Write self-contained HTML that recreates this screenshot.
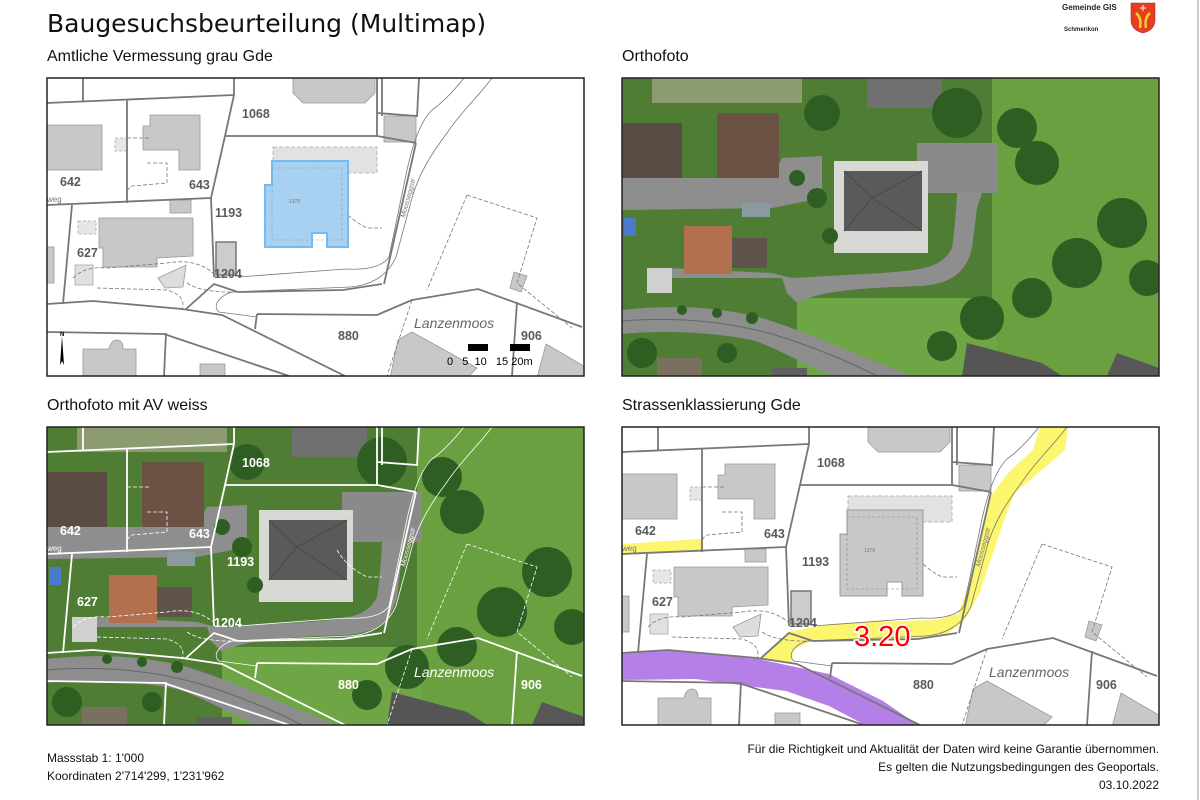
<!DOCTYPE html>
<html><head><meta charset="utf-8"><style>
html,body{margin:0;padding:0;background:#fff;}
svg{display:block;}
.t{font-family:"Liberation Sans",sans-serif;}
.lb{font-family:"Liberation Sans",sans-serif;font-weight:bold;font-size:12.5px;fill:#5a5a5a;}
.sm{font-family:"Liberation Sans",sans-serif;font-size:5px;fill:#777;}
</style></head><body>
<svg width="1200" height="800" viewBox="0 0 1200 800" xmlns="http://www.w3.org/2000/svg">
<defs>
<clipPath id="cp"><rect x="0" y="0" width="537" height="298"/></clipPath>
<g id="blds">
  <rect x="0" y="47" width="55" height="45" fill="#c8c8c8" stroke="#999" stroke-width="0.8"/>
  <polygon points="103,37 153,37 153,92 132,92 132,72 96,72 96,48 103,48" fill="#c8c8c8" stroke="#999" stroke-width="0.8"/>
  <polygon points="52,140 146,140 146,178 110,180 110,189 56,189 56,170 52,170" fill="#c8c8c8" stroke="#999" stroke-width="0.8"/>
  <polygon points="246,0 328,0 328,15 318,25 256,25 246,15" fill="#c8c8c8" stroke="#999" stroke-width="0.8"/>
  <rect x="337" y="38" width="32" height="26" fill="#c8c8c8" stroke="#999" stroke-width="0.8"/>
  <rect x="169" y="164" width="20" height="33" fill="#ccc" stroke="#777" stroke-width="1.5"/>
  <polygon points="111,200 139,187 136,209 118,210" fill="#ddd" stroke="#999" stroke-width="0.8"/>
  <rect x="123" y="122" width="21" height="13" fill="#c8c8c8" stroke="#999" stroke-width="0.8"/>
  <rect x="226" y="69" width="104" height="26" fill="#e2e2e2" stroke="#aaa" stroke-width="0.8" stroke-dasharray="4,2"/>
  <path d="M36,298 L36,271 L62,271 Q64,262 70,262 Q76,262 76,271 L89,271 L89,298Z" fill="#c8c8c8" stroke="#999" stroke-width="0.8"/>
  <rect x="153" y="286" width="25" height="14" fill="#c8c8c8" stroke="#999" stroke-width="0.8"/>
  <polygon points="365,254 430,290 420,300 343,300 351,262" fill="#c8c8c8" stroke="#999" stroke-width="0.8"/>
  <polygon points="499,266 540,290 540,300 490,300" fill="#c8c8c8" stroke="#999" stroke-width="0.8"/>
  <polygon points="467,194 480,198 474,214 463,210" fill="#c8c8c8" stroke="#999" stroke-width="0.8"/>
  <rect x="0" y="169" width="7" height="36" fill="#c8c8c8" stroke="#999" stroke-width="0.8"/>
  <rect x="28" y="187" width="18" height="20" fill="#e0e0e0" stroke="#aaa" stroke-width="0.8"/>
  <rect x="31" y="143" width="18" height="13" fill="#e6e6e6" stroke="#aaa" stroke-width="0.8" stroke-dasharray="3,2"/>
  <rect x="68" y="60" width="12" height="13" fill="#e6e6e6" stroke="#aaa" stroke-width="0.8" stroke-dasharray="3,2"/>
</g>
<g id="lines" fill="none">
  <path d="M0,25 L187,17 M36,0 L36,23 M80,22 L80,125 M187,0 L187,17 L178,58 L164,120 L167,199 M178,58 L330,58 L369,65 M330,0 L330,58 M335,0 L335,38 M330,35 L370,38 M369,65 L337,206 M370,39 L372,0 M0,127 L164,120 M25,127 L16,226 M0,226 L46,223 L135,231 L175,237 L298,298 M0,254 L117,256 L242,298 M139,231 L167,206 L191,214 L296,212 L335,206 M210,236 L330,237 L365,222 L431,211 L535,249 M210,236 L208,251 M470,224 L465,298 M119,255 L117,298" stroke-width="1.8"/>
  <path d="M445,0 C430,20 413,35 400,55 C385,75 372,95 365,120 L349,179 C340,200 320,208 303,209 L185,214 C172,218 165,228 172,234 L210,239 M417,0 C405,15 395,25 385,32 C372,45 365,70 360,92 L342,179 C335,190 315,192 299,191 L191,199" stroke-width="0.8"/>
  <path d="M80,60 L103,60 M100,85 L120,85 L120,105 L85,108 Q78,112 80,120 M26,200 Q38,188 60,190 L120,185 Q150,180 167,196 M140,205 Q155,215 190,214 M50,210 L120,212 Q140,218 135,232 M290,123 Q300,140 320,150 L335,150 M420,117 L490,140 L470,205 L525,250 M420,117 L380,212 M365,222 L340,298" stroke-width="0.8" stroke-dasharray="4,2"/>
</g>
<g id="ortho">
  <rect x="0" y="0" width="537" height="298" fill="#4f7d34"/>
  <rect x="370" y="0" width="167" height="298" fill="#6aa040"/>
  <rect x="175" y="220" width="200" height="78" fill="#6ea545"/>
  <rect x="30" y="0" width="150" height="25" fill="#8c9b70"/>
  <path d="M0,100 L150,100 L160,80 L200,78 L200,120 L150,130 L0,132Z" fill="#8e8e8e"/>
  <path d="M0,232 C60,226 100,230 140,240 C180,252 230,275 290,298 L210,298 C180,285 150,268 130,262 C90,254 40,252 0,256Z" fill="#8d8d8d"/>
  <path d="M0,243 C60,238 110,245 150,256 C190,268 230,285 255,298" stroke="#666" stroke-width="1" fill="none"/>
  <path d="M45,200 L160,200 L165,215 L175,225 C200,212 240,210 300,208 C335,205 345,190 350,170 L355,130 L372,80 L365,68 L340,68 C335,95 335,140 330,170 C320,190 300,192 260,195 L170,200 L150,195 L45,190Z" fill="#8e8e8e"/>
  <rect x="295" y="65" width="80" height="50" fill="#8a8a8a"/>
  <rect x="212" y="83" width="94" height="92" fill="#d8d8d4"/>
  <rect x="222" y="93" width="78" height="60" fill="#5a5a5a"/>
  <path d="M222,93 L250,120 L300,93 M250,120 L300,153 M250,120 L222,153" stroke="#4a4a4a" fill="none"/>
  <rect x="0" y="45" width="60" height="55" fill="#5b4c43"/>
  <rect x="95" y="35" width="62" height="65" fill="#6b5244"/>
  <rect x="62" y="148" width="48" height="48" fill="#b2704f"/>
  <rect x="110" y="160" width="35" height="30" fill="#5e544c"/>
  <rect x="120" y="125" width="28" height="14" fill="#8a9aa0"/>
  <rect x="25" y="190" width="25" height="25" fill="#d0d0d0"/>
  <rect x="245" y="0" width="75" height="30" fill="#707070"/>
  <polygon points="345,265 420,285 440,298 340,298" fill="#555"/>
  <polygon points="495,275 537,290 537,298 485,298" fill="#575757"/>
  <rect x="35" y="280" width="45" height="18" fill="#7a7060"/>
  <rect x="150" y="290" width="35" height="8" fill="#606060"/>
  <g fill="#2f5e22">
    <circle cx="335" cy="35" r="25"/><circle cx="395" cy="50" r="20"/><circle cx="415" cy="85" r="22"/><circle cx="200" cy="35" r="18"/>
    <circle cx="500" cy="145" r="25"/><circle cx="455" cy="185" r="25"/><circle cx="410" cy="220" r="20"/><circle cx="360" cy="240" r="22"/>
    <circle cx="525" cy="200" r="18"/><circle cx="320" cy="268" r="15"/><circle cx="20" cy="275" r="15"/><circle cx="105" cy="275" r="10"/>
    <circle cx="195" cy="120" r="10"/><circle cx="208" cy="158" r="8"/><circle cx="175" cy="100" r="8"/>
    <circle cx="130" cy="240" r="6"/><circle cx="95" cy="235" r="5"/><circle cx="60" cy="232" r="5"/>
  </g>
  <rect x="2" y="140" width="12" height="18" fill="#4a7ac8"/>
</g>
</defs>

<text x="47" y="32" font-family="DejaVu Sans,sans-serif" font-size="25" fill="#111">Baugesuchsbeurteilung (Multimap)</text>
<text x="1062" y="10" class="t" font-size="8" font-weight="bold" fill="#222">Gemeinde GIS</text>
<text x="1064" y="31" class="t" font-size="6" font-weight="bold" fill="#222">Schmerikon</text>
<path d="M1131,3 L1155,3 L1155,20 Q1155,30 1143,33 Q1131,30 1131,20Z" fill="#e53e1f" stroke="#a33" stroke-width="0.6"/>
<path d="M1136,13 Q1142,18 1140,28 M1150,13 Q1144,18 1146,28" stroke="#f3d130" stroke-width="2.5" fill="none"/>
<path d="M1143,5 L1143,11 M1140,8 L1146,8" stroke="#fff" stroke-width="1"/>
<line x1="1198" y1="0" x2="1198" y2="800" stroke="#999" stroke-width="1"/>

<text x="47" y="61" class="t" font-size="16" fill="#111">Amtliche Vermessung grau Gde</text>
<text x="622" y="61" class="t" font-size="16" fill="#111">Orthofoto</text>
<text x="47" y="410" class="t" font-size="16" fill="#111">Orthofoto mit AV weiss</text>
<text x="622" y="410" class="t" font-size="16" fill="#111">Strassenklassierung Gde</text>

<!-- Panel 1 -->
<g transform="translate(47,78)">
  <g clip-path="url(#cp)">
    <rect width="537" height="298" fill="#fff"/>
    <use href="#blds"/>
    <use href="#lines" stroke="#777"/>
    <polygon points="225,83 301,83 301,169 280,169 280,155 265,155 265,169 218,169 218,107 225,107" fill="#a8d0f0" stroke="#72bcf0" stroke-width="2"/>
    <rect x="225" y="90" width="70" height="72" fill="none" stroke="#8aa" stroke-width="0.6" stroke-dasharray="3,2"/>
    <g class="lb">
      <text x="195" y="40">1068</text><text x="13" y="108">642</text><text x="142" y="111">643</text>
      <text x="168" y="139">1193</text><text x="30" y="179">627</text><text x="167" y="200">1204</text>
      <text x="291" y="262">880</text><text x="474" y="262">906</text>
    </g>
    <text x="367" y="250" class="t" font-size="14" font-style="italic" fill="#666">Lanzenmoos</text>
    <text x="0" y="0" class="t" font-size="7" font-style="italic" fill="#777" transform="translate(358,140) rotate(-75)">Moosseggstr</text>
    <text x="0" y="124" class="t" font-size="8" fill="#777">weg</text>
    <text x="242" y="125" class="sm">1378</text>
    <path d="M15,258 L17,287 L15,283 L13,287Z" fill="#000"/>
    <text x="13" y="258" class="t" font-size="6" font-weight="bold">N</text>
    <rect x="421" y="266" width="20" height="7" fill="#000"/>
    <rect x="463" y="266" width="20" height="7" fill="#000"/>
    <text x="400" y="287" class="t" font-size="11" fill="#000">0&#160;&#160;&#160;5&#160;&#160;10&#160;&#160;&#160;15 20m</text>
  </g>
  <rect x="0" y="0" width="537" height="298" fill="none" stroke="#222" stroke-width="1.5"/>
</g>

<!-- Panel 2 -->
<g transform="translate(622,78)">
  <g clip-path="url(#cp)"><use href="#ortho"/></g>
  <rect x="0" y="0" width="537" height="298" fill="none" stroke="#222" stroke-width="1.5"/>
</g>

<!-- Panel 3 -->
<g transform="translate(47,427)">
  <g clip-path="url(#cp)">
    <use href="#ortho"/>
    <use href="#lines" stroke="#fff"/>
    <g class="lb" style="fill:#fff">
      <text x="195" y="40">1068</text><text x="13" y="108">642</text><text x="142" y="111">643</text>
      <text x="180" y="139">1193</text><text x="30" y="179">627</text><text x="167" y="200">1204</text>
      <text x="291" y="262">880</text><text x="474" y="262">906</text>
    </g>
    <text x="367" y="250" class="t" font-size="14" font-style="italic" fill="#fff">Lanzenmoos</text>
    <text x="0" y="0" class="t" font-size="7" font-style="italic" fill="#fff" transform="translate(358,140) rotate(-75)">Moosseggstr</text>
    <text x="0" y="124" class="t" font-size="8" fill="#fff">weg</text>
  </g>
  <rect x="0" y="0" width="537" height="298" fill="none" stroke="#222" stroke-width="1.5"/>
</g>

<!-- Panel 4 -->
<g transform="translate(622,427)">
  <g clip-path="url(#cp)">
    <rect width="537" height="298" fill="#fff"/>
    <polygon points="0,253 73,252 164,264 207,279 243,298 296,298 261,274 207,247 136,232 46,223 0,227" fill="#b57fe8"/>
    <polygon points="418,0 446,0 443,23 393,66 382,93 371,126 357,167 343,193 325,207 293,212 191,213 171,223 170,235 139,232 166,205 207,197 243,195 314,193 336,187 346,160 368,70 386,46 411,23" fill="#fbf66e"/>
    <polygon points="0,117 79,112 79,124 0,127" fill="#fbf66e"/>
    <use href="#blds"/>
    <use href="#lines" stroke="#777"/>
    <polygon points="225,83 301,83 301,169 280,169 280,155 265,155 265,169 218,169 218,107 225,107" fill="#c8c8c8" stroke="#999" stroke-width="1"/>
    <rect x="225" y="90" width="70" height="72" fill="none" stroke="#888" stroke-width="0.6" stroke-dasharray="3,2"/>
    <g class="lb">
      <text x="195" y="40">1068</text><text x="13" y="108">642</text><text x="142" y="111">643</text>
      <text x="180" y="139">1193</text><text x="30" y="179">627</text><text x="167" y="200">1204</text>
      <text x="291" y="262">880</text><text x="474" y="262">906</text>
    </g>
    <text x="367" y="250" class="t" font-size="14" font-style="italic" fill="#666">Lanzenmoos</text>
    <text x="0" y="0" class="t" font-size="7" font-style="italic" fill="#777" transform="translate(358,140) rotate(-75)">Moosseggstr</text>
    <text x="0" y="124" class="t" font-size="8" fill="#777">weg</text>
    <text x="242" y="125" class="sm">1378</text>
    <text x="232" y="219" class="t" font-size="29" fill="#f00" stroke="#fff" stroke-width="3" paint-order="stroke">3.20</text>
  </g>
  <rect x="0" y="0" width="537" height="298" fill="none" stroke="#222" stroke-width="1.5"/>
</g>

<text x="47" y="762" class="t" font-size="12" fill="#111">Massstab 1: 1'000</text>
<text x="47" y="780" class="t" font-size="12" fill="#111">Koordinaten 2'714'299, 1'231'962</text>
<text x="1159" y="753" class="t" font-size="12" fill="#111" text-anchor="end">Für die Richtigkeit und Aktualität der Daten wird keine Garantie übernommen.</text>
<text x="1159" y="771" class="t" font-size="12" fill="#111" text-anchor="end">Es gelten die Nutzungsbedingungen des Geoportals.</text>
<text x="1159" y="789" class="t" font-size="12" fill="#111" text-anchor="end">03.10.2022</text>
</svg>
</body></html>
